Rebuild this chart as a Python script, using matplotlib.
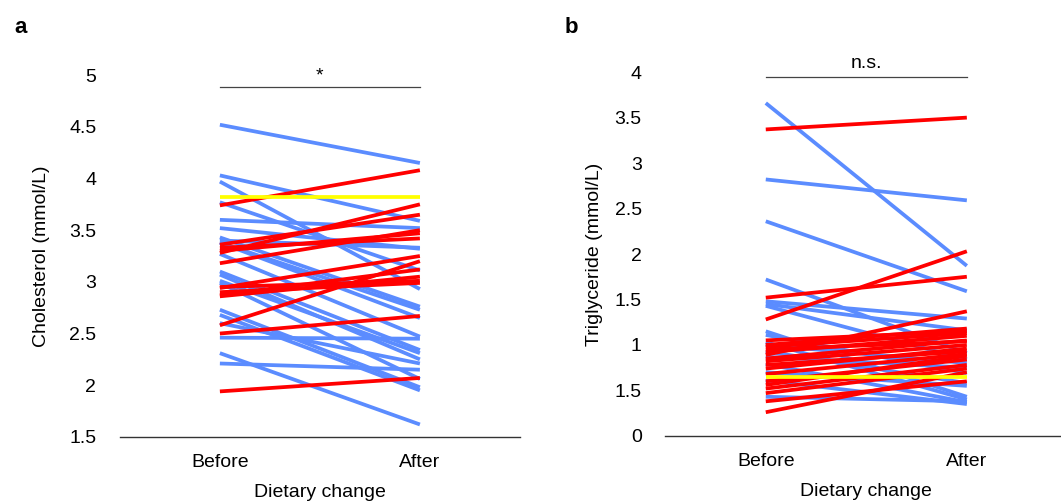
import numpy as np
import matplotlib.pyplot as plt

plt.rcParams['font.family'] = ['Liberation Sans', 'DejaVu Sans']

# Cholesterol (mmol/L), before -> after dietary change
chol_up_before = [3.74, 3.36, 3.28, 3.30, 3.33, 3.18, 2.94, 2.87, 2.86, 2.95, 2.90, 2.58, 2.50, 1.94]
chol_up_after = [4.08, 3.65, 3.75, 3.47, 3.42, 3.50, 3.25, 3.12, 3.05, 3.01, 2.99, 3.20, 2.67, 2.07]
chol_down_before = [4.52, 4.03, 3.97, 3.60, 3.52, 3.77, 3.43, 3.40, 3.38, 3.38, 3.27,
                    3.10, 3.07, 3.01, 2.99, 2.73, 2.68, 2.60, 2.46, 2.31, 2.21]
chol_down_after = [4.15, 3.59, 2.93, 3.52, 3.32, 3.11, 2.76, 3.33, 2.73, 2.65, 2.47,
                   2.34, 2.25, 2.31, 2.06, 1.98, 1.95, 2.21, 2.45, 1.62, 2.15]
chol_same = [3.82, 3.82]

# Triglyceride (mmol/L)
tg_up_before = [3.37, 1.52, 1.28, 1.05, 0.98, 0.89, 0.85, 0.82, 0.74, 0.56, 0.52, 0.47, 0.38, 0.26,
                0.92, 0.78, 0.68, 0.60, 1.00, 0.95]
tg_up_after = [3.50, 1.75, 2.03, 1.15, 1.13, 1.37, 1.05, 1.00, 0.96, 0.88, 0.78, 0.74, 0.60, 0.70,
               1.10, 0.93, 0.90, 0.84, 1.18, 1.04]
tg_down_before = [3.66, 2.82, 2.36, 1.72, 1.48, 1.45, 1.43, 1.15, 1.11, 1.03, 0.93, 0.79, 0.61, 0.43,
                  0.87, 1.00, 0.70]
tg_down_after = [1.87, 2.59, 1.59, 0.91, 1.29, 1.16, 0.84, 0.43, 0.69, 0.40, 0.58, 0.37, 0.35, 0.38,
                 0.75, 0.80, 0.55]
tg_same = [0.65, 0.65]

groups = ['Before', 'After']
chol_ticks = [1.5, 2, 2.5, 3, 3.5, 4, 4.5, 5]
chol_labels = ['1.5', '2', '2.5', '3', '3.5', '4', '4.5', '5']
tg_ticks = [0, 0.5, 1, 1.5, 2, 2.5, 3, 3.5, 4]
tg_labels = ['0', '1.5', '1', '1.5', '2', '2.5', '3', '3.5', '4']

BLUE = '#5B8CFF'
RED = '#FF0000'
YELLOW = '#FFFF00'

fig = plt.figure(figsize=(10.61, 5.01), dpi=100)
ax1 = fig.add_axes([0.113, 0.128, 0.377, 0.722])
ax2 = fig.add_axes([0.627, 0.130, 0.379, 0.726])


def draw_panel(ax, down_b, down_a, up_b, up_a, same):
    x = [0, 1]
    for b, a in zip(down_b, down_a):
        ax.plot(x, [b, a], color=BLUE, lw=2.7, solid_capstyle='butt')
    for b, a in zip(up_b, up_a):
        ax.plot(x, [b, a], color=RED, lw=2.7, solid_capstyle='butt')
    ax.plot(x, same, color=YELLOW, lw=2.7, solid_capstyle='butt')
    ax.set_xlim(-0.5, 1.5)
    ax.set_xticks(x)
    ax.set_xticklabels(groups, fontsize=14)
    for s in ['top', 'right', 'left']:
        ax.spines[s].set_visible(False)
    ax.spines['bottom'].set_color('#333333')
    ax.spines['bottom'].set_linewidth(1.0)
    ax.tick_params(axis='y', length=0, pad=17, labelsize=14)
    ax.tick_params(axis='x', length=0, pad=12)
    ax.set_xlabel('Dietary change', fontsize=14, labelpad=10)


draw_panel(ax1, chol_down_before, chol_down_after, chol_up_before, chol_up_after, chol_same)
ax1.set_ylim(1.5, 5)
ax1.set_yticks(chol_ticks)
ax1.set_yticklabels(chol_labels)
ax1.set_ylabel('Cholesterol (mmol/L)', fontsize=14, labelpad=14)
ax1.plot([0, 1], [4.89, 4.89], color='#444444', lw=0.9, clip_on=False)
ax1.text(0.5, 4.91, '*', ha='center', va='bottom', fontsize=14)

draw_panel(ax2, tg_down_before, tg_down_after, tg_up_before, tg_up_after, tg_same)
ax2.set_ylim(0, 4)
ax2.set_yticks(tg_ticks)
ax2.set_yticklabels(tg_labels)
ax2.set_ylabel('Triglyceride (mmol/L)', fontsize=14, labelpad=8)
ax2.plot([0, 1], [3.945, 3.945], color='#444444', lw=0.9, clip_on=False)
ax2.text(0.5, 4.0, 'n.s.', ha='center', va='bottom', fontsize=14)

fig.text(0.014, 0.935, 'a', fontsize=16, fontweight='bold')
fig.text(0.532, 0.935, 'b', fontsize=16, fontweight='bold')

fig.savefig('out.png', dpi=100)
